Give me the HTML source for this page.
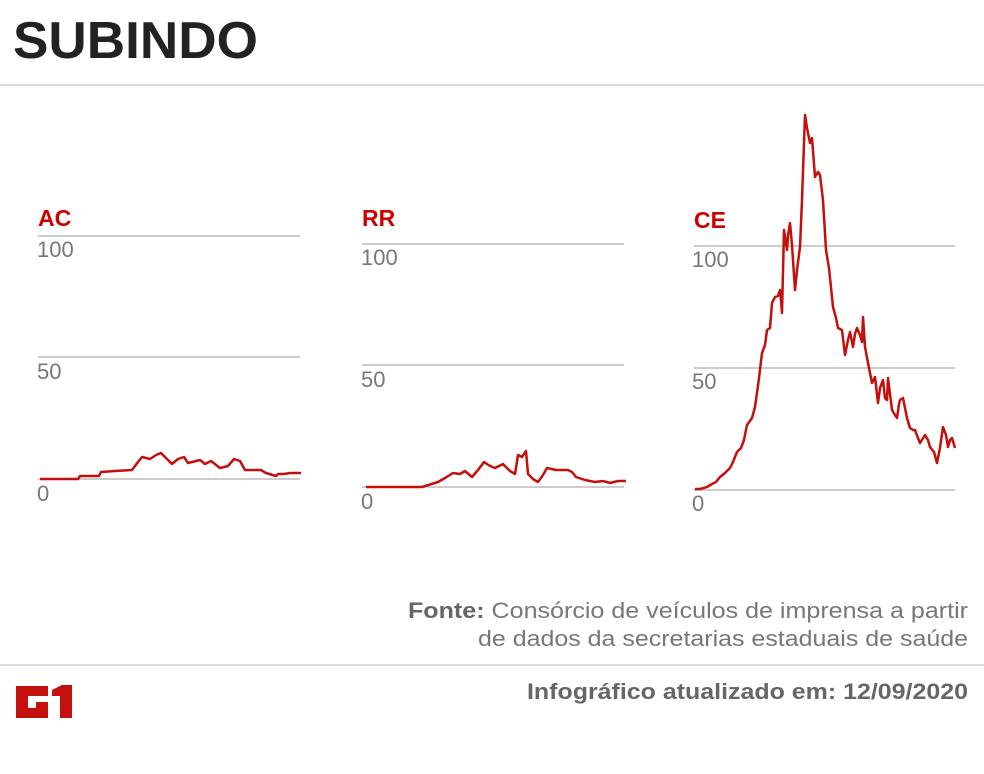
<!DOCTYPE html>
<html><head><meta charset="utf-8"><style>
html,body{margin:0;padding:0;background:#fff;}
svg{display:block;}
text{font-family:"Liberation Sans",sans-serif;}
</style></head><body>
<svg width="984" height="774" viewBox="0 0 984 774" xmlns="http://www.w3.org/2000/svg">
<text x="13" y="58" font-size="52" font-weight="bold" fill="#222" textLength="245" lengthAdjust="spacingAndGlyphs">SUBINDO</text>
<line x1="0" y1="85" x2="984" y2="85" stroke="#ddd" stroke-width="2"/>

<g stroke="#bbb" stroke-width="1.5">
<line x1="38" y1="236" x2="300" y2="236"/><line x1="38" y1="357" x2="300" y2="357"/><line x1="38" y1="479" x2="300" y2="479"/>
<line x1="362" y1="244" x2="624" y2="244"/><line x1="362" y1="365" x2="624" y2="365"/><line x1="362" y1="487" x2="624" y2="487"/>
<line x1="694" y1="246" x2="955" y2="246"/><line x1="694" y1="368" x2="955" y2="368"/><line x1="694" y1="490" x2="955" y2="490"/>
</g>
<g fill="#777" font-size="22">
<text x="37" y="257">100</text><text x="37" y="379">50</text><text x="37" y="501">0</text>
<text x="361" y="265">100</text><text x="361" y="387">50</text><text x="361" y="509">0</text>
<text x="692" y="267">100</text><text x="692" y="389">50</text><text x="692" y="511">0</text>
</g>
<g fill="#c00" font-size="23" font-weight="bold">
<text x="38" y="226">AC</text><text x="362" y="226">RR</text><text x="694" y="228">CE</text>
</g>
<g fill="none" stroke="#c4100c" stroke-width="2.5" stroke-linejoin="round">
<polyline points="40,479 78,479 80,476 99,476 101,472 115,471 132,470 138,462 142,457 150,459 156,455 161,453 166,458 172,464 178,459 184,457 188,463 192,462 200,460 205,464 211,461 215,464 220,468 228,466 234,459 240,461 245,470 261,470 266,473 276,476 278,474 284,474 290,473 301,473"/>
<polyline points="366,487 422,487 438,482 445,478 453,473 460,474 465,471 472,477 478,470 484,462 490,466 495,468 503,464 510,471 515,474 518,455 522,457 526,451 528,474 533,479 538,482 543,475 547,468 556,470 568,470 572,472 576,477 585,480 595,482 603,481 610,483 618,481 626,481"/>
<polyline points="695,489 700,489 707,487 712,484 716,482 720,477 725,473 730,468 733,462 737,452 741,448 744,440 747,425 752,418 755,407 757,393 759,378 762,353 765,345 767,330 770,328 772,303 775,297 778,296 780,290 781,300 782,313 784,230 786,243 787,250 788,236 790,223 792,245 795,290 797,270 800,247 802,200 805,115 807,128 810,143 812,138 815,177 818,172 820,175 823,200 826,250 829,268 833,307 836,318 838,328 842,330 845,355 848,340 850,332 853,347 855,334 857,328 860,335 862,342 863,317 865,347 869,368 872,383 875,377 878,403 880,388 883,380 885,398 887,400 888,378 892,410 895,415 897,418 899,404 900,400 903,398 907,418 910,428 913,430 915,430 918,438 920,443 925,435 928,440 930,447 934,452 937,463 940,448 943,427 946,435 948,447 950,440 952,438 955,448"/>
</g>

<text x="968" y="618" font-size="22" fill="#777" text-anchor="end" textLength="560" lengthAdjust="spacingAndGlyphs"><tspan font-weight="bold" fill="#666">Fonte:</tspan> Consórcio de veículos de imprensa a partir</text>
<text x="968" y="646" font-size="22" fill="#777" text-anchor="end" textLength="490" lengthAdjust="spacingAndGlyphs">de dados da secretarias estaduais de saúde</text>
<line x1="0" y1="665" x2="984" y2="665" stroke="#ddd" stroke-width="2"/>
<text x="968" y="699" font-size="22" fill="#666" font-weight="bold" text-anchor="end" textLength="441" lengthAdjust="spacingAndGlyphs">Infográfico atualizado em: 12/09/2020</text>
<g fill="#c4100c">
<path d="M16,686 H48 V696 H28 V708 H36 V702 H48 V718 H16 Z"/>
<path d="M52,690 L62,685 H72 V718 H60 V696 H52 Z"/>
</g>
</svg>
</body></html>
